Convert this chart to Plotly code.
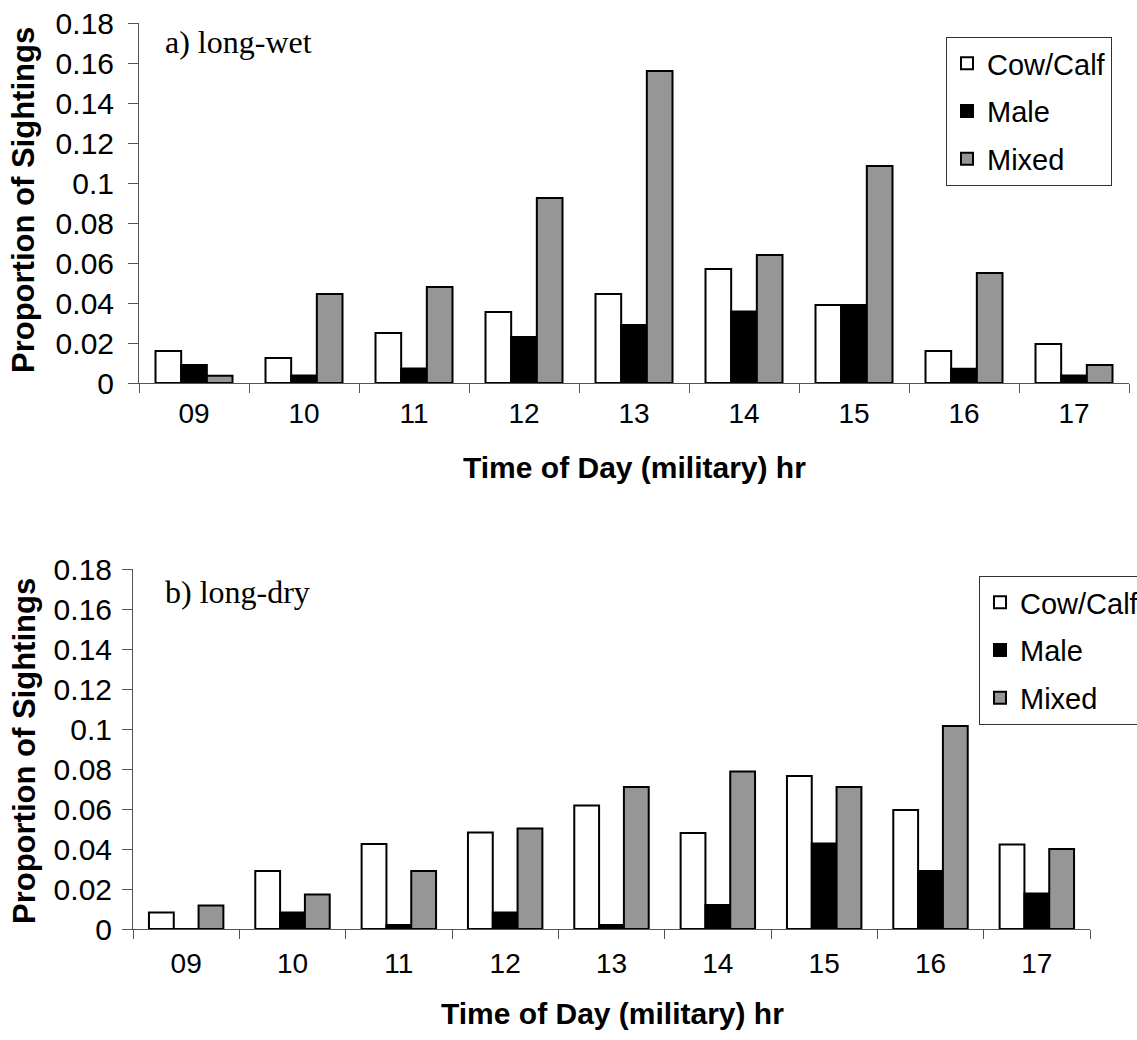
import plotly.graph_objects as go

# Hour-of-day categories shared by both panels
hours = ["09", "10", "11", "12", "13", "14", "15", "16", "17"]

# a) long-wet season: proportion of sightings per group type
wet_cow_calf = [0.016, 0.0125, 0.025, 0.0355, 0.0445, 0.057, 0.039, 0.016, 0.0195]
wet_male = [0.009, 0.0037, 0.0073, 0.023, 0.029, 0.0357, 0.039, 0.0071, 0.0037]
wet_mixed = [0.0036, 0.0445, 0.048, 0.0925, 0.156, 0.064, 0.1085, 0.055, 0.009]

# b) long-dry season
dry_cow_calf = [0.0082, 0.029, 0.0425, 0.0483, 0.0618, 0.048, 0.0765, 0.0595, 0.0423]
dry_male = [0.0, 0.0083, 0.002, 0.0083, 0.002, 0.012, 0.0427, 0.029, 0.0177]
dry_mixed = [0.0117, 0.0173, 0.029, 0.0503, 0.071, 0.0787, 0.071, 0.1015, 0.04]

series_names = ["Cow/Calf", "Male", "Mixed"]
series_fills = ["#ffffff", "#000000", "#969696"]

y_tick_vals = [0, 0.02, 0.04, 0.06, 0.08, 0.1, 0.12, 0.14, 0.16, 0.18]
y_tick_text = ["0", "0.02", "0.04", "0.06", "0.08", "0.1", "0.12", "0.14", "0.16", "0.18"]

panel_labels = ["a) long-wet", "b) long-dry"]
x_title = "Time of Day (military) hr"
y_title = "Proportion of Sightings"

W, H = 1137, 1040
SANS = "Arial, Liberation Sans, sans-serif"
SERIF = "Times New Roman, Liberation Serif, serif"
AXIS_GREY = "#555555"


def px_x(p):
    return p / W


def px_y(p):
    return 1 - p / H


fig = go.Figure()

panels = [
    ([wet_cow_calf, wet_male, wet_mixed], "x", "y", "legend"),
    ([dry_cow_calf, dry_male, dry_mixed], "x2", "y2", "legend2"),
]
for values, xa, ya, leg in panels:
    for name, fill, vals in zip(series_names, series_fills, values):
        fig.add_trace(go.Bar(
            x=hours, y=vals, name=name,
            xaxis=xa, yaxis=ya, legend=leg, legendgroup=leg + name,
            marker=dict(color=fill, line=dict(color="#000000", width=2)),
            hoverinfo="x+y+name",
        ))

common_x = dict(
    type="category", tickson="boundaries", ticks="outside", ticklen=9,
    tickcolor=AXIS_GREY, showline=True, linecolor=AXIS_GREY, linewidth=1,
    showgrid=False, zeroline=False,
    tickfont=dict(family=SANS, size=28, color="#000000"),
)
common_y = dict(
    range=[0, 0.18], tickvals=y_tick_vals, ticktext=y_tick_text,
    ticks="outside", ticklen=10, tickcolor=AXIS_GREY,
    showline=True, linecolor=AXIS_GREY, linewidth=1,
    showgrid=False, zeroline=False,
    tickfont=dict(family=SANS, size=30, color="#000000"),
)

legend_common = dict(
    xanchor="left", yanchor="top", bgcolor="#ffffff",
    bordercolor="#333333", borderwidth=1,
    font=dict(family=SANS, size=29, color="#000000"),
    traceorder="grouped", tracegroupgap=7,
)

fig.update_layout(
    width=W, height=H,
    margin=dict(l=0, r=0, t=0, b=0, autoexpand=False),
    paper_bgcolor="#ffffff", plot_bgcolor="#ffffff",
    barmode="group", bargap=0.3, bargroupgap=0,
    xaxis=dict(domain=[px_x(139), px_x(1129)], anchor="y",
               ticklabelstandoff=5, **common_x),
    yaxis=dict(domain=[px_y(383), px_y(23)], anchor="x",
               ticklabelstandoff=8, **common_y),
    xaxis2=dict(domain=[px_x(133), px_x(1090)], anchor="y2",
                ticklabelstandoff=9, **common_x),
    yaxis2=dict(domain=[px_y(929), px_y(569)], anchor="x2",
                ticklabelstandoff=4, **common_y),
    legend=dict(x=px_x(946), y=px_y(37), **legend_common),
    legend2=dict(x=px_x(979), y=px_y(576), **legend_common),
    showlegend=True,
)

annotations = [
    # panel labels
    dict(text=panel_labels[0], x=px_x(163), y=px_y(42), xanchor="left", yanchor="middle",
         font=dict(family=SERIF, size=32, color="#000000")),
    dict(text=panel_labels[1], x=px_x(163), y=px_y(592), xanchor="left", yanchor="middle",
         font=dict(family=SERIF, size=32, color="#000000")),
    # x axis titles
    dict(text="<b>" + x_title + "</b>", x=px_x(634), y=px_y(468), xanchor="center", yanchor="middle",
         font=dict(family=SANS, size=30, color="#000000")),
    dict(text="<b>" + x_title + "</b>", x=px_x(612), y=px_y(1013), xanchor="center", yanchor="middle",
         font=dict(family=SANS, size=30, color="#000000")),
    # y axis titles
    dict(text="<b>" + y_title + "</b>", x=px_x(24), y=px_y(200), xanchor="center", yanchor="middle",
         textangle=-90, font=dict(family=SANS, size=31, color="#000000")),
    dict(text="<b>" + y_title + "</b>", x=px_x(24), y=px_y(751), xanchor="center", yanchor="middle",
         textangle=-90, font=dict(family=SANS, size=31, color="#000000")),
]
for a in annotations:
    a.update(xref="paper", yref="paper", showarrow=False)
fig.update_layout(annotations=annotations)

fig.write_html("out.html")
